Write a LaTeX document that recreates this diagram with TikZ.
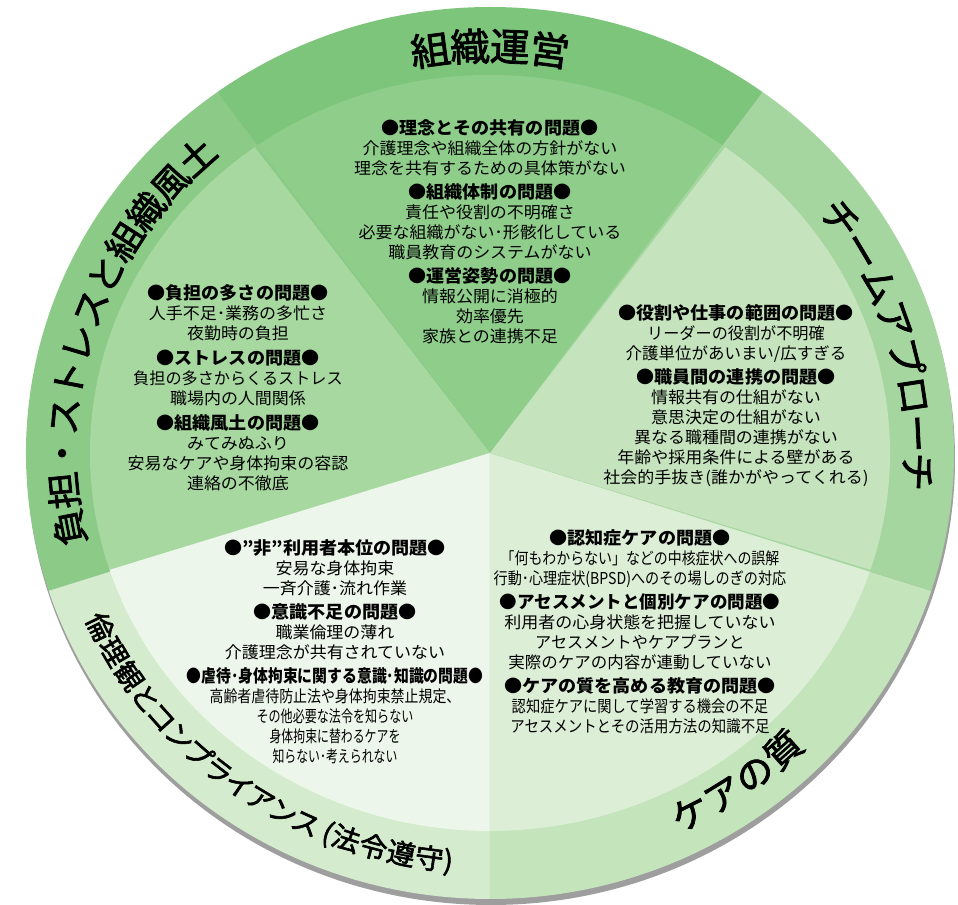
\documentclass[tikz,border=0pt]{standalone}
\usepackage{fontspec}
\setmainfont{Noto Sans CJK JP}[FakeStretch=1.04]
\newfontfamily\ttlfont{Noto Sans CJK JP}[FakeStretch=1.04, FakeBold=2]
\newfontfamily\ttlpfont{Noto Sans CJK JP}[FakeStretch=1.04, FakeBold=2, RawFeature=+palt]
\usetikzlibrary{decorations.text}

\definecolor{ringA}{RGB}{126,197,124}
\definecolor{innA}{RGB}{143,205,139}
\definecolor{ringB}{RGB}{139,203,135}
\definecolor{innB}{RGB}{167,216,160}
\definecolor{ringC}{RGB}{213,235,205}
\definecolor{innC}{RGB}{237,246,234}
\definecolor{ringD}{RGB}{196,228,188}
\definecolor{innD}{RGB}{220,238,214}
\definecolor{ringE}{RGB}{166,214,159}
\definecolor{innE}{RGB}{197,227,189}

\newcommand{\hd}[1]{{\bfseries\fontsize{9.9pt}{11.34pt}\selectfont ●#1●}}
\newcommand{\sq}[2]{\scalebox{#1}[1]{#2}}
\tikzstyle{issue} = [align=center, inner sep=0pt, anchor=north, font=\fontsize{9.3pt}{11.34pt}\selectfont]
\tikzset{ringtitle/.style={decorate, decoration={text along path, text align=center, #1}}}

\begin{document}
\begin{tikzpicture}[x=0.02cm, y=0.02cm]
\useasboundingbox (-490,-452) rectangle (468,453);
\fill[white] (-490,-452) rectangle (468,453);
\fill[black!38] (1,-6) ellipse[x radius=464, y radius=446];

\foreach \a/\rc/\ic in {54/ringA/innA, 126/ringB/innB, 198/ringC/innC, 270/ringD/innD, 342/ringE/innE} {
  \fill[\rc] (0,0) -- (\a:464 and 446) arc[start angle=\a, delta angle=72, x radius=464, y radius=446] -- cycle;
  \fill[\ic] (0,0) -- (\a:400 and 378) arc[start angle=\a, delta angle=72, x radius=400, y radius=378] -- cycle;
}

\path[ringtitle={text={|\ttlfont\fontsize{21.8pt}{24pt}\selectfont|組織運営}, raise=-8.3pt}]
  (126:428 and 407) arc[start angle=126, end angle=54, x radius=428, y radius=407];
\path[ringtitle={text={|\ttlfont\fontsize{21.2pt}{24pt}\selectfont|チームアプローチ}, raise=-9pt}]
  (54:430 and 410) arc[start angle=54, end angle=-22, x radius=430, y radius=410];
\path[ringtitle={text={|\ttlfont\fontsize{20.6pt}{24pt}\selectfont|ケアの質}, raise=-7.8pt}]
  (270:428 and 407) arc[start angle=270, end angle=342, x radius=428, y radius=407];
\path[ringtitle={text={|\ttlpfont\fontsize{15.6pt}{18pt}\selectfont|倫理観とコンプライアンス (法令遵守)}, raise=-6pt}]
  (198:430 and 409) arc[start angle=198, end angle=270, x radius=430, y radius=409];
\path[ringtitle={text={|\ttlfont\fontsize{20.4pt}{24pt}\selectfont|負担・ストレスと組織風土}, raise=-7.8pt}]
  (198:428 and 407) arc[start angle=198, end angle=126, x radius=428, y radius=407];

\node[issue] (unei) at (0,334) {\hd{理念とその共有の問題}\\
  介護理念や組織全体の方針がない\\
  理念を共有するための具体策がない\\[2.6pt]
  \hd{組織体制の問題}\\
  責任や役割の不明確さ\\
  必要な組織がない･形骸化している\\
  職員教育のシステムがない\\[2.6pt]
  \hd{運営姿勢の問題}\\
  情報公開に消極的\\
  効率優先\\
  家族との連携不足};

\node[issue] (futan) at (-252,169) {\hd{負担の多さの問題}\\
  人手不足･業務の多忙さ\\
  夜勤時の負担\\[3pt]
  \hd{ストレスの問題}\\
  \sq{0.95}{負担の多さからくるストレス}\\
  職場内の人間関係\\[3pt]
  \hd{組織風土の問題}\\
  みてみぬふり\\
  安易なケアや身体拘束の容認\\
  連絡の不徹底};

\node[issue] (team) at (246,149) {\hd{役割や仕事の範囲の問題}\\
  \sq{0.95}{リーダーの役割が不明確}\\
  \sq{0.97}{介護単位があいまい/広すぎる}\\[2.6pt]
  \hd{職員間の連携の問題}\\
  情報共有の仕組がない\\
  意思決定の仕組がない\\
  異なる職種間の連携がない\\
  年齢や採用条件による壁がある\\
  社会的手抜き(誰かがやってくれる)};

\node[issue] (care) at (150,-76) {\hd{認知症ケアの問題}\\
  \sq{0.82}{「何もわからない」などの中核症状への誤解}\\
  \sq{0.83}{行動･心理症状(BPSD)へのその場しのぎの対応}\\[2.6pt]
  \sq{0.97}{\hd{アセスメントと個別ケアの問題}}\\
  利用者の心身状態を把握していない\\
  \sq{0.95}{アセスメントやケアプランと}\\
  \sq{0.97}{実際のケアの内容が連動していない}\\[2.6pt]
  \hd{ケアの質を高める教育の問題}\\
  \sq{0.84}{認知症ケアに関して学習する機会の不足}\\
  \sq{0.85}{アセスメントとその活用方法の知識不足}};

\node[issue] (rinri) at (-155,-86) {\hd{"非"利用者本位の問題}\\
  安易な身体拘束\\
  一斉介護･流れ作業\\[2.6pt]
  \hd{意識不足の問題}\\
  職業倫理の薄れ\\
  介護理念が共有されていない\\[2.6pt]
  \sq{0.82}{\hd{虐待･身体拘束に関する意識･知識の問題}}\\
  \sq{0.82}{高齢者虐待防止法や身体拘束禁止規定、}\\
  \sq{0.71}{その他必要な法令を知らない}\\
  \sq{0.7}{身体拘束に替わるケアを}\\
  \sq{0.7}{知らない･考えられない}};
\end{tikzpicture}
\end{document}
